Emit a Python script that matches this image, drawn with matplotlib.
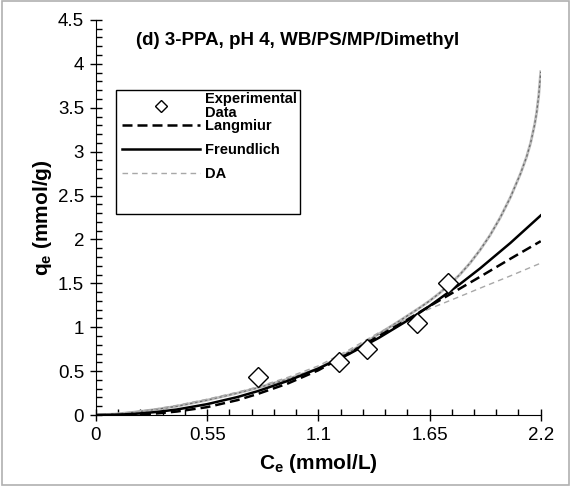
import matplotlib
matplotlib.use('Agg')
import matplotlib.pyplot as plt
from matplotlib.patches import Rectangle
from matplotlib.ticker import MultipleLocator

plt.rcParams['font.family'] = ['Liberation Sans', 'DejaVu Sans']
plt.rcParams['mathtext.fontset'] = 'custom'
plt.rcParams['mathtext.rm'] = 'Liberation Sans'
plt.rcParams['mathtext.bf'] = 'Liberation Sans:bold'

# experimental points
ce_exp = [0.80, 1.20, 1.34, 1.59, 1.74]
qe_exp = [0.43, 0.60, 0.75, 1.05, 1.50]

# model curves
ce_fit = [0.0, 0.1, 0.2, 0.3, 0.4, 0.55, 0.7, 0.8, 0.95, 1.1, 1.25, 1.4, 1.55, 1.65, 1.8, 1.9, 2.05, 2.2]
q_langmuir = [0.0, 0.0, 0.005, 0.018, 0.04, 0.09, 0.17, 0.24, 0.36, 0.51, 0.70, 0.90, 1.10, 1.24, 1.44, 1.575, 1.78, 1.98]
q_freundlich = [0.0, 0.003, 0.015, 0.035, 0.063, 0.124, 0.205, 0.272, 0.39, 0.53, 0.693, 0.88, 1.089, 1.242, 1.491, 1.67, 1.96, 2.273]
q_da = [0.0, 0.015, 0.04, 0.07, 0.11, 0.18, 0.26, 0.32, 0.43, 0.56, 0.74, 0.94, 1.11, 1.21, 1.35, 1.445, 1.585, 1.73]

ce_da2 = [0.0, 0.1, 0.2, 0.3, 0.4, 0.55, 0.7, 0.8, 0.95, 1.1, 1.3, 1.5, 1.6, 1.65, 1.7, 1.75, 1.8, 1.85,
          1.9, 1.95, 2.0, 2.05, 2.1, 2.13, 2.15, 2.17, 2.18, 2.19, 2.2]
q_da2 = [0.0, 0.012, 0.035, 0.065, 0.10, 0.17, 0.25, 0.31, 0.41, 0.53, 0.78, 1.07, 1.22, 1.30, 1.39, 1.49,
         1.60, 1.73, 1.88, 2.05, 2.25, 2.48, 2.75, 2.94, 3.10, 3.31, 3.45, 3.64, 3.91]

x_ticks = [0, 0.55, 1.1, 1.65, 2.2]
x_labels = ['0', '0.55', '1.1', '1.65', '2.2']

fig = plt.figure(figsize=(5.71, 4.86), dpi=100)
ax = fig.add_axes([0.168, 0.146, 0.779, 0.813])

ax.plot(ce_da2, q_da2, color='#bdbdbd', lw=2.0, zorder=2)
ax.plot(ce_da2, q_da2, color='#6a6a6a', lw=0.9, dashes=(2, 2), zorder=2)
da_line, = ax.plot(ce_fit, q_da, color='#a8a8a8', lw=1.0, dashes=(4, 3), zorder=3)
fr_line, = ax.plot(ce_fit, q_freundlich, color='black', lw=1.8, zorder=4)
la_line, = ax.plot(ce_fit, q_langmuir, color='black', lw=1.8, dashes=(4, 2), zorder=4)
exp_pts, = ax.plot(ce_exp, qe_exp, ls='none', marker='D', ms=10, mfc='white', mec='black', mew=1.0, zorder=5)

ax.set_xlim(0, 2.2)
ax.set_ylim(0, 4.5)
ax.set_xticks(x_ticks)
ax.set_xticklabels(x_labels)
ax.xaxis.set_minor_locator(MultipleLocator(0.11))
ax.yaxis.set_major_locator(MultipleLocator(0.5))
ax.yaxis.set_minor_locator(MultipleLocator(0.1))
ax.yaxis.set_major_formatter(plt.FuncFormatter(lambda v, p: '%g' % v))
ax.tick_params(which='major', direction='inout', length=9, width=1, labelsize=13.5, pad=4)
ax.tick_params(which='minor', direction='in', length=4, width=1)
for side in ['top', 'right']:
    ax.spines[side].set_visible(False)

ax.set_xlabel(r'$\mathbf{C_e}$ (mmol/L)', fontsize=15, fontweight='bold', labelpad=6)
ax.set_ylabel(r'$\mathbf{q_e}$ (mmol/g)', fontsize=15, fontweight='bold', labelpad=3)
ax.text(0.09, 0.949, '(d) 3-PPA, pH 4, WB/PS/MP/Dimethyl', transform=ax.transAxes,
        fontsize=13.5, fontweight='bold', va='center')

# legend frame (Excel style box with extra room at the bottom)
ax.add_patch(Rectangle((0.045, 0.509), 0.413, 0.313, transform=ax.transAxes, fill=False,
                       edgecolor='black', lw=1.0, zorder=6))
leg_font = {'weight': 'bold', 'size': 10.5}
leg1 = ax.legend([exp_pts], ['Experimental\nData'], loc='upper left', bbox_to_anchor=(0.058, 0.818),
                 borderaxespad=0, borderpad=0, frameon=False, handlelength=5.4, handletextpad=0.3,
                 prop=leg_font, markerscale=0.6)
leg1.get_texts()[0].set_linespacing(1.0)
ax.add_artist(leg1)
ax.legend([la_line, fr_line, da_line], ['Langmiur', 'Freundlich', 'DA'], loc='upper left',
          bbox_to_anchor=(0.058, 0.750), borderaxespad=0, borderpad=0, frameon=False,
          handlelength=5.4, handletextpad=0.3, labelspacing=0.7, prop=leg_font)

fig.patches.append(Rectangle((0.003, 0.003), 0.994, 0.994, transform=fig.transFigure,
                             fill=False, edgecolor='#b0b0b0', lw=1.2))

fig.savefig('out.png', dpi=100)
